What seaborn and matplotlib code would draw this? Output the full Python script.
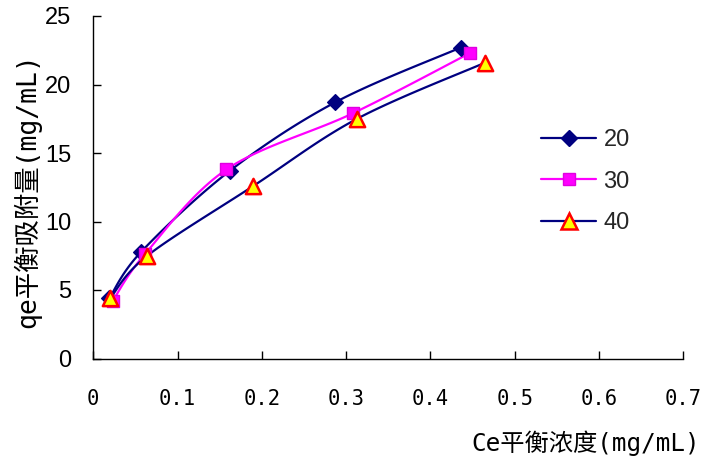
import numpy as np
import pandas as pd
import matplotlib
matplotlib.use("Agg")
import matplotlib.pyplot as plt
from matplotlib.lines import Line2D
import seaborn as sns

# Equilibrium concentration Ce (mg/mL) and adsorption capacity qe (mg/mL)
ce_20 = [0.019, 0.057, 0.162, 0.287, 0.436]
qe_20 = [4.4, 7.8, 13.7, 18.7, 22.7]
ce_30 = [0.023, 0.061, 0.158, 0.308, 0.447]
qe_30 = [4.2, 7.6, 13.8, 17.9, 22.3]
ce_40 = [0.020, 0.064, 0.190, 0.313, 0.465]
qe_40 = [4.4, 7.5, 12.6, 17.5, 21.6]
series_labels = ["20", "30", "40"]

x_ticks = [0, 0.1, 0.2, 0.3, 0.4, 0.5, 0.6, 0.7]
x_tick_labels = ["0", "0.1", "0.2", "0.3", "0.4", "0.5", "0.6", "0.7"]
y_ticks = [0, 5, 10, 15, 20, 25]
y_tick_labels = ["0", "5", "10", "15", "20", "25"]

sns.set_theme(style="white")
plt.rcParams["font.family"] = ["Liberation Sans", "Noto Sans CJK SC", "DejaVu Sans"]
plt.rcParams["axes.unicode_minus"] = False

mono_cjk = ["DejaVu Sans Mono", "Noto Sans CJK SC"]

fig = plt.figure(figsize=(7.05, 4.58), dpi=100)
ax = fig.add_axes([93.3 / 705, 1 - 358.5 / 458, (683.3 - 93.3) / 705, (358.5 - 16) / 458])
ax.set_xlim(0, 0.7)
ax.set_ylim(0, 25)


def smooth_curve(xs, ys, steps=24):
    """Cubic Bezier smoothing through the points, computed in display space."""
    pts = ax.transData.transform(np.column_stack([xs, ys]))
    n = len(pts)
    out = [pts[0]]
    t = np.linspace(0, 1, steps)[1:, None]
    for i in range(n - 1):
        p0 = pts[max(i - 1, 0)]
        p1 = pts[i]
        p2 = pts[i + 1]
        p3 = pts[min(i + 2, n - 1)]
        c1 = p1 + (p2 - p0) / 6.0
        c2 = p2 - (p3 - p1) / 6.0
        seg = ((1 - t) ** 3) * p1 + 3 * ((1 - t) ** 2) * t * c1 + 3 * (1 - t) * t ** 2 * c2 + t ** 3 * p2
        out.extend(seg)
    out = ax.transData.inverted().transform(np.array(out))
    return out[:, 0], out[:, 1]


styles = [
    dict(color="#000080", marker="D", mfc="#000080", mec="#000080", ms=8, mew=1.0),
    dict(color="#FF00FF", marker="s", mfc="#FF00FF", mec="#E000E0", ms=8.5, mew=1.0),
    dict(color="#000080", marker="^", mfc="#FFFF00", mec="#FF0000", ms=11, mew=1.8),
]
data = [(ce_20, qe_20), (ce_30, qe_30), (ce_40, qe_40)]

handles = []
for (xs, ys), st, lab in zip(data, styles, series_labels):
    sx, sy = smooth_curve(xs, ys)
    sns.lineplot(x=sx, y=sy, sort=False, estimator=None, color=st["color"], lw=1.6, ax=ax)
    df = pd.DataFrame({"ce": xs, "qe": ys})
    sns.scatterplot(data=df, x="ce", y="qe", marker=st["marker"], s=st["ms"] ** 2,
                    color=st["mfc"], edgecolor=st["mec"], linewidth=st["mew"], ax=ax, zorder=3)
    handles.append(Line2D([0], [0], color=st["color"], lw=1.6, marker=st["marker"],
                          markerfacecolor=st["mfc"], markeredgecolor=st["mec"],
                          markersize=st["ms"], markeredgewidth=st["mew"], label=lab))

# axes styling
for side in ["top", "right"]:
    ax.spines[side].set_visible(False)
for side in ["left", "bottom"]:
    ax.spines[side].set_color("black")
    ax.spines[side].set_linewidth(1.0)

ax.set_xticks(x_ticks)
ax.set_xticklabels(x_tick_labels, fontfamily=mono_cjk, fontsize=14.8)
ax.set_yticks(y_ticks)
ax.set_yticklabels(y_tick_labels, fontfamily="Liberation Sans", fontsize=17)
ax.tick_params(axis="both", direction="in", length=6, width=1.0, color="black",
               labelcolor="black", left=True, bottom=True)
ax.tick_params(axis="x", pad=22)
ax.tick_params(axis="y", pad=16)

ax.set_xlabel("Ce平衡浓度(mg/mL)", fontfamily=mono_cjk, fontsize=17.5, color="black",
              ha="right", va="center")
ax.xaxis.set_label_coords(1.028, -0.246)
ax.set_ylabel("qe平衡吸附量(mg/mL)", fontfamily=mono_cjk, fontsize=19, color="black",
              ha="center", va="center")
ax.yaxis.set_label_coords(-0.112, 0.49)

leg = ax.legend(handles=handles, loc="upper left", bbox_to_anchor=(541 / 705, 1 - 129 / 458),
                bbox_transform=fig.transFigure, frameon=False, fontsize=17,
                handlelength=2.35, handletextpad=0.3, labelspacing=0.83,
                borderpad=0, borderaxespad=0)
for txt in leg.get_texts():
    txt.set_fontfamily("Liberation Sans")

fig.savefig("out.png", dpi=100, facecolor="white")
